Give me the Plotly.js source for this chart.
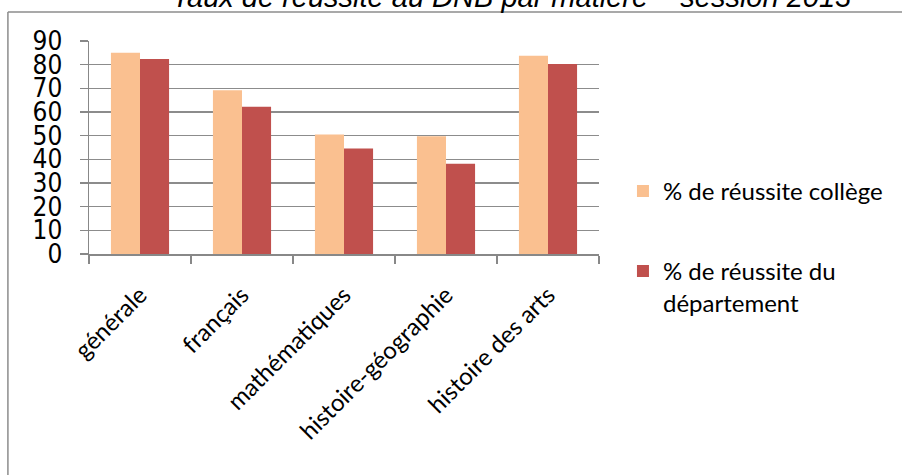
<!DOCTYPE html>
<html>
<head>
<meta charset="utf-8">
<script src="https://cdn.plot.ly/plotly-3.0.1.min.js"></script>
<style>html,body{margin:0;padding:0;background:#fff;}#chart{width:902px;height:475px;}</style>
</head>
<body>
<div id="chart"></div>
<script>
var categories = ["générale", "français", "mathématiques", "histoire-géographie", "histoire des arts"];
var collegeValues = [85, 69.2, 50.5, 49.8, 83.8];
var departementValues = [82.4, 62.2, 44.6, 38.1, 80.3];
var seriesNames = ["% de réussite collège", "% de réussite du<br>département"];
var yTicks = [0, 10, 20, 30, 40, 50, 60, 70, 80, 90];
var titleText = "Taux de réussite au DNB par matière – session 2013";

var traces = [
  {type: "bar", x: categories, y: collegeValues, name: seriesNames[0], legendgroup: "a",
   marker: {color: "#FAC090"}, hoverinfo: "none"},
  {type: "bar", x: categories, y: departementValues, name: seriesNames[1], legendgroup: "b",
   marker: {color: "#C0504D"}, hoverinfo: "none"}
];

var layout = {
  width: 902, height: 475,
  margin: {l: 89, r: 303, t: 41, b: 221, pad: 0},
  paper_bgcolor: "#fff", plot_bgcolor: "#fff",
  barmode: "group", bargap: 0.43, bargroupgap: 0,
  annotations: [
    {text: titleText, xref: "paper", yref: "paper", x: 0.829, y: 1.122, xanchor: "center", yanchor: "bottom",
     showarrow: false, font: {family: "Liberation Sans, Arial, sans-serif", size: 29, style: "italic", color: "#000"}}
  ],
  xaxis: {type: "category", tickson: "boundaries", ticks: "outside", ticklen: 8, tickcolor: "#888", tickwidth: 1.5,
          showline: true, linecolor: "#888", linewidth: 1.5, showgrid: false, tickangle: -45, ticklabelstandoff: 16,
          tickfont: {family: "Lato, Open Sans, sans-serif", size: 24, color: "#000"}, fixedrange: true},
  yaxis: {range: [0, 90], tickvals: yTicks, ticks: "outside", ticklen: 8, tickcolor: "#888", tickwidth: 1.5,
          showline: true, linecolor: "#888", linewidth: 1.5, showgrid: true, gridcolor: "#8c8c8c", gridwidth: 1.5,
          zeroline: false, ticklabelstandoff: 12,
          tickfont: {family: "Liberation Sans Narrow, DejaVu Sans Condensed, sans-serif", size: 26, color: "#000"}, fixedrange: true},
  showlegend: true,
  legend: {x: 1.047, xanchor: "left", y: 0.40, yanchor: "top", traceorder: "grouped", tracegroupgap: 46,
           valign: "top", font: {family: "Lato, Open Sans, sans-serif", size: 24, color: "#000"}, bgcolor: "rgba(0,0,0,0)"},
  shapes: [
    {type: "line", xref: "paper", yref: "paper", x0: -0.159, x1: 1.6, y0: 1.136, y1: 1.136,
     line: {color: "#8c8c8c", width: 1.5}, layer: "below"},
    {type: "line", xref: "paper", yref: "paper", x0: -0.159, x1: -0.159, y0: -1.2, y1: 1.136,
     line: {color: "#8c8c8c", width: 1.5}, layer: "below"}
  ]
};

Plotly.newPlot("chart", traces, layout, {displayModeBar: false, staticPlot: true});
</script>
</body>
</html>
